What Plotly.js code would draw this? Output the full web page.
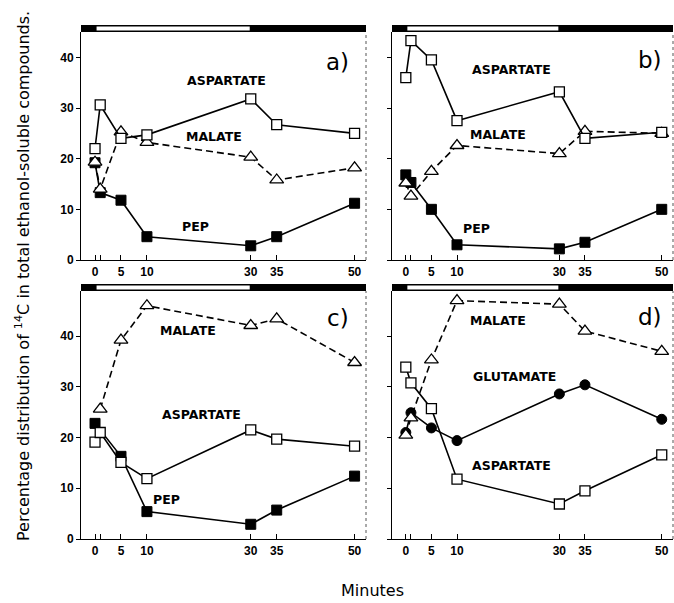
<!DOCTYPE html>
<html>
<head>
<meta charset="utf-8">
<script src="https://cdn.plot.ly/plotly-3.0.1.min.js"></script>
<style>html,body{margin:0;padding:0;background:#fff;}#chart{width:674px;height:603px;}</style>
</head>
<body>
<div id="chart"></div>
<script>
// ---- data ----
const minutes = [0, 1, 5, 10, 30, 35, 50];
const xTickVals = [0, 5, 10, 30, 35, 50];
const xTickText = ['0', '5', '10', '30', '35', '50'];
const xMinorTicks = [1];
const yTickVals = [0, 10, 20, 30, 40];
const lightStart = 0, lightEnd = 30;

// panel a
const aAspartate = [22, 30.6, 24, 24.7, 31.8, 26.7, 25];
const aMalate    = [19.3, 14, 25.3, 23.2, 20.3, 15.8, 18.2];
const aPEP       = [19.2, 13.3, 11.8, 4.6, 2.8, 4.6, 11.2];
// panel b
const bAspartate = [36, 43.3, 39.5, 27.5, 33.2, 24, 25.2];
const bMalate    = [15.2, 12.6, 17.5, 22.6, 21, 25.4, 25];
const bPEP       = [16.8, 15.3, 10, 3, 2.2, 3.5, 10];
// panel c
const cMalate    = [null, 25.6, 39.2, 46, 42.1, 43.4, 34.8];
const cAspartate = [19.1, 21, 15.1, 11.9, 21.5, 19.7, 18.3];
const cPEP       = [22.8, null, 16.3, 5.4, 2.9, 5.7, 12.4];
// panel d
const dMalate    = [20.5, 23.9, 35.3, 47, 46.3, 41, 37];
const dGlutamate = [21, 24.9, 21.9, 19.4, 28.6, 30.4, 23.6];
const dAspartate = [33.9, 30.8, 25.7, 11.8, 6.9, 9.5, 16.6];

// ---- styles ----
const W = 674, H = 603;
const openSq  = {symbol: 'square', size: 10, color: '#fff', line: {color: '#000', width: 1.3}};
const openTri = {symbol: 'triangle-up', size: 12, color: '#fff', line: {color: '#000', width: 1.3}};
const fillSq  = {symbol: 'square', size: 10, color: '#000', line: {color: '#000', width: 1}};
const fillCir = {symbol: 'circle', size: 10, color: '#000', line: {color: '#000', width: 1}};
const solid = {color: '#000', width: 1.6};
const dashed = {color: '#000', width: 1.6, dash: '7px,4px'};

function tr(xa, ya, y, marker, line) {
  return {x: minutes, y: y, xaxis: xa, yaxis: ya, mode: 'lines+markers', marker: marker, line: line,
          connectgaps: true, showlegend: false, hoverinfo: 'skip', cliponaxis: false};
}

const data = [
  tr('x', 'y', aPEP, fillSq, solid),
  tr('x', 'y', aMalate, openTri, dashed),
  tr('x', 'y', aAspartate, openSq, solid),
  tr('x2', 'y2', bPEP, fillSq, solid),
  tr('x2', 'y2', bMalate, openTri, dashed),
  tr('x2', 'y2', bAspartate, openSq, solid),
  tr('x3', 'y3', cPEP, fillSq, solid),
  tr('x3', 'y3', cAspartate, openSq, solid),
  tr('x3', 'y3', cMalate, openTri, dashed),
  tr('x4', 'y4', dGlutamate, fillCir, solid),
  tr('x4', 'y4', dAspartate, openSq, solid),
  tr('x4', 'y4', dMalate, openTri, dashed)
];

// pixel geometry -> paper domains
const colL = [81, 366], colR = [392, 673];
const rowT = [32, 260], rowB = [291, 539];
const dx = p => [p[0] / W, p[1] / W];
const dy = p => [(H - p[1]) / H, (H - p[0]) / H];

const tickFont = {family: 'Liberation Sans, Arial, sans-serif', size: 12, color: '#000', weight: 'bold'};
function xax(dom, anchor) {
  return {domain: dx(dom), anchor: anchor, range: [-2.7, 52.2], showgrid: false, zeroline: false,
          showline: true, linecolor: '#000', linewidth: 1.3, ticks: 'inside', ticklen: 5, tickwidth: 1,
          tickcolor: '#000', tickmode: 'array', tickvals: xTickVals, ticktext: xTickText, tickfont: tickFont,
          minor: {tickmode: 'array', tickvals: xMinorTicks, ticks: 'inside', ticklen: 5, tickwidth: 1, tickcolor: '#000'},
          fixedrange: true};
}
function yax(dom, anchor, top, labels) {
  return {domain: dy(dom), anchor: anchor, range: [0, top], showgrid: false, zeroline: false,
          showline: true, linecolor: '#000', linewidth: 1, ticks: 'outside', ticklen: 4, tickwidth: 1,
          tickcolor: '#000', tickvals: yTickVals, showticklabels: labels, tickfont: tickFont, fixedrange: true};
}

const shapes = [];
function bar(xa, ya, hpx) {
  const f = 7 / hpx, e = 1.6 / hpx;
  shapes.push({type: 'rect', xref: xa + ' domain', yref: ya + ' domain', x0: 0, x1: 1, y0: 1, y1: 1 + f,
               fillcolor: '#000', line: {width: 0}});
  shapes.push({type: 'rect', xref: xa, yref: ya + ' domain', x0: lightStart + 0.3, x1: lightEnd - 0.2,
               y0: 1 + e, y1: 1 + f - e, fillcolor: '#fff', line: {width: 0}});
  shapes.push({type: 'line', xref: xa + ' domain', yref: ya + ' domain', x0: 1, x1: 1, y0: 0, y1: 1,
               line: {color: '#555', width: 1, dash: 'dot'}});
}
bar('x', 'y', 228); bar('x2', 'y2', 228); bar('x3', 'y3', 248); bar('x4', 'y4', 248);

const lab = {family: 'DejaVu Sans, sans-serif', size: 12.5, color: '#000', weight: 'bold'};
const big = {family: 'DejaVu Sans, sans-serif', size: 23, color: '#000'};
function ann(xa, ya, x, y, text, font) {
  return {xref: xa, yref: ya, x: x, y: y, text: text, showarrow: false, font: font,
          xanchor: 'center', yanchor: 'middle'};
}
const annotations = [
  ann('x', 'y', 25.4, 35.5, 'ASPARTATE', lab),
  ann('x', 'y', 23, 24.3, 'MALATE', lab),
  ann('x', 'y', 19.3, 6.6, 'PEP', lab),
  ann('x', 'y', 46.8, 39.1, 'a)', big),
  ann('x2', 'y2', 20.7, 37.5, 'ASPARTATE', lab),
  ann('x2', 'y2', 18.1, 24.8, 'MALATE', lab),
  ann('x2', 'y2', 13.8, 6.2, 'PEP', lab),
  ann('x2', 'y2', 47.7, 39.5, 'b)', big),
  ann('x3', 'y3', 18, 41.1, 'MALATE', lab),
  ann('x3', 'y3', 20.6, 24.5, 'ASPARTATE', lab),
  ann('x3', 'y3', 13.8, 7.7, 'PEP', lab),
  ann('x3', 'y3', 46.9, 43.5, 'c)', big),
  ann('x4', 'y4', 18.1, 43, 'MALATE', lab),
  ann('x4', 'y4', 21.3, 32, 'GLUTAMATE', lab),
  ann('x4', 'y4', 20.6, 14.4, 'ASPARTATE', lab),
  ann('x4', 'y4', 47.7, 43.8, 'd)', big),
  {xref: 'paper', yref: 'paper', x: 22 / W, y: (H - 276) / H, textangle: -90, showarrow: false,
   text: 'Percentage distribution of <sup>14</sup>C in total ethanol-soluble compounds.',
   font: {family: 'DejaVu Sans, sans-serif', size: 16, color: '#000'}, xanchor: 'center', yanchor: 'middle'},
  {xref: 'paper', yref: 'paper', x: 372 / W, y: (H - 590) / H, showarrow: false, text: 'Minutes',
   font: {family: 'DejaVu Sans, sans-serif', size: 16, color: '#000'}, xanchor: 'center', yanchor: 'middle'}
];

const layout = {
  width: W, height: H, margin: {l: 0, r: 0, t: 0, b: 0}, paper_bgcolor: '#fff', plot_bgcolor: '#fff',
  showlegend: false,
  xaxis: xax(colL, 'y'), yaxis: yax(rowT, 'x', 45, true),
  xaxis2: xax(colR, 'y2'), yaxis2: yax(rowT, 'x2', 45, false),
  xaxis3: xax(colL, 'y3'), yaxis3: yax(rowB, 'x3', 48.9, true),
  xaxis4: xax(colR, 'y4'), yaxis4: yax(rowB, 'x4', 48.9, false),
  shapes: shapes, annotations: annotations
};
Plotly.newPlot('chart', data, layout, {staticPlot: true, displayModeBar: false});
</script>
</body>
</html>
